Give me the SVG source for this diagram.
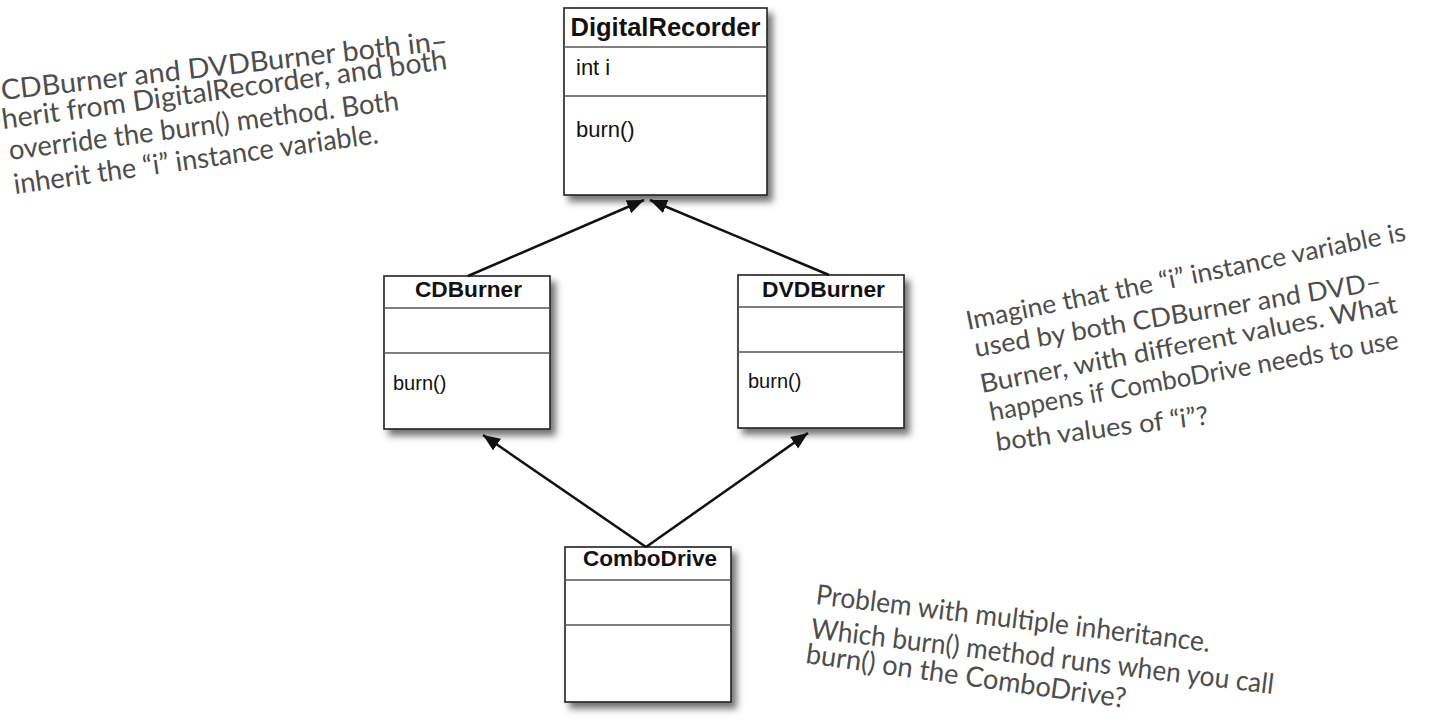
<svg xmlns="http://www.w3.org/2000/svg" width="1431" height="728" viewBox="0 0 1431 728">
<defs>
<filter id="sh" x="-20%" y="-20%" width="150%" height="150%">
<feDropShadow dx="5" dy="6" stdDeviation="3.5" flood-color="#000" flood-opacity="0.55"/>
</filter>
<marker id="ah" markerUnits="userSpaceOnUse" markerWidth="20" markerHeight="16" refX="17" refY="7" orient="auto">
<path d="M0,0 L17,7 L0,14 Z" fill="#111"/>
</marker>
<style>
.box{fill:#fff;stroke:#222;stroke-width:1.6}
.div{stroke:#555;stroke-width:1.3}
.title{font-family:"Liberation Sans",Arial,sans-serif;font-weight:bold;fill:#111;text-anchor:middle}
.mem{font-family:"Liberation Sans",Arial,sans-serif;fill:#111}
.conn{stroke:#111;stroke-width:2.5;fill:none;marker-end:url(#ah)}
.note{font-family:Lato,"Noto Sans",sans-serif;font-size:28px;fill:#4d4d4d}
.noter{font-family:Lato,"Noto Sans",sans-serif;font-size:26px;fill:#4d4d4d}
</style>
</defs>
<rect width="1431" height="728" fill="#fff"/>

<g id="DigitalRecorder">
<rect class="box" x="564" y="8" width="203" height="187" filter="url(#sh)"/>
<line class="div" x1="564" y1="47" x2="767" y2="47"/>
<line class="div" x1="564" y1="96" x2="767" y2="96"/>
<text class="title" x="665.5" y="36" font-size="25" textLength="190" lengthAdjust="spacingAndGlyphs">DigitalRecorder</text>
<text class="mem" x="576" y="75" font-size="22">int i</text>
<text class="mem" x="576" y="137" font-size="22">burn()</text>
</g>

<g id="CDBurner">
<rect class="box" x="384" y="276" width="166" height="153" filter="url(#sh)"/>
<line class="div" x1="384" y1="308" x2="550" y2="308"/>
<line class="div" x1="384" y1="353" x2="550" y2="353"/>
<text class="title" x="468.5" y="297" font-size="22" textLength="107" lengthAdjust="spacingAndGlyphs">CDBurner</text>
<text class="mem" x="393" y="390" font-size="20">burn()</text>
</g>

<g id="DVDBurner">
<rect class="box" x="738" y="275" width="166" height="153" filter="url(#sh)"/>
<line class="div" x1="738" y1="307" x2="904" y2="307"/>
<line class="div" x1="738" y1="352" x2="904" y2="352"/>
<text class="title" x="823.5" y="297" font-size="22" textLength="123" lengthAdjust="spacingAndGlyphs">DVDBurner</text>
<text class="mem" x="748" y="388" font-size="20">burn()</text>
</g>

<g id="ComboDrive">
<rect class="box" x="565" y="547" width="166" height="155" filter="url(#sh)"/>
<line class="div" x1="565" y1="580" x2="731" y2="580"/>
<line class="div" x1="565" y1="625" x2="731" y2="625"/>
<text class="title" x="650" y="566" font-size="22" textLength="134" lengthAdjust="spacingAndGlyphs">ComboDrive</text>
</g>

<g id="connectors">
<line class="conn" x1="468" y1="276" x2="644" y2="200"/>
<line class="conn" x1="829" y1="275" x2="650" y2="200"/>
<line class="conn" x1="646" y1="547" x2="483" y2="435"/>
<line class="conn" x1="646" y1="547" x2="808" y2="433"/>
</g>

<g id="note-left">
<text class="note" transform="translate(2,100) rotate(-6.4)" textLength="449" lengthAdjust="spacingAndGlyphs">CDBurner and DVDBurner both in–</text>
<text class="note" transform="translate(3,129) rotate(-7.68)" textLength="449" lengthAdjust="spacingAndGlyphs">herit from DigitalRecorder, and both</text>
<text class="note" transform="translate(10,160) rotate(-7.31)" textLength="393" lengthAdjust="spacingAndGlyphs">override the burn() method. Both</text>
<text class="note" transform="translate(15,194) rotate(-7.95)" textLength="368" lengthAdjust="spacingAndGlyphs">inherit the “i” instance variable.</text>
</g>

<g id="note-right">
<text class="noter" transform="translate(968,330) rotate(-11.55)" textLength="448" lengthAdjust="spacingAndGlyphs">Imagine that the “i” instance variable is</text>
<text class="noter" transform="translate(976,357) rotate(-9.4)" textLength="412" lengthAdjust="spacingAndGlyphs">used by both CDBurner and DVD–</text>
<text class="noter" transform="translate(982,393) rotate(-10.94)" textLength="424" lengthAdjust="spacingAndGlyphs">Burner, with different values. What</text>
<text class="noter" transform="translate(991,421) rotate(-10.07)" textLength="415" lengthAdjust="spacingAndGlyphs">happens if ComboDrive needs to use</text>
<text class="noter" transform="translate(997,451) rotate(-7.22)" textLength="214" lengthAdjust="spacingAndGlyphs">both values of “i”?</text>
</g>

<g id="note-bottom">
<text class="note" transform="translate(815,604) rotate(6.93)" textLength="397" lengthAdjust="spacingAndGlyphs">Problem with multiple inheritance.</text>
<text class="note" transform="translate(810,638) rotate(6.9)" textLength="466" lengthAdjust="spacingAndGlyphs">Which burn() method runs when you call</text>
<text class="note" transform="translate(805,663) rotate(8)" textLength="323" lengthAdjust="spacingAndGlyphs">burn() on the ComboDrive?</text>
</g>
</svg>
